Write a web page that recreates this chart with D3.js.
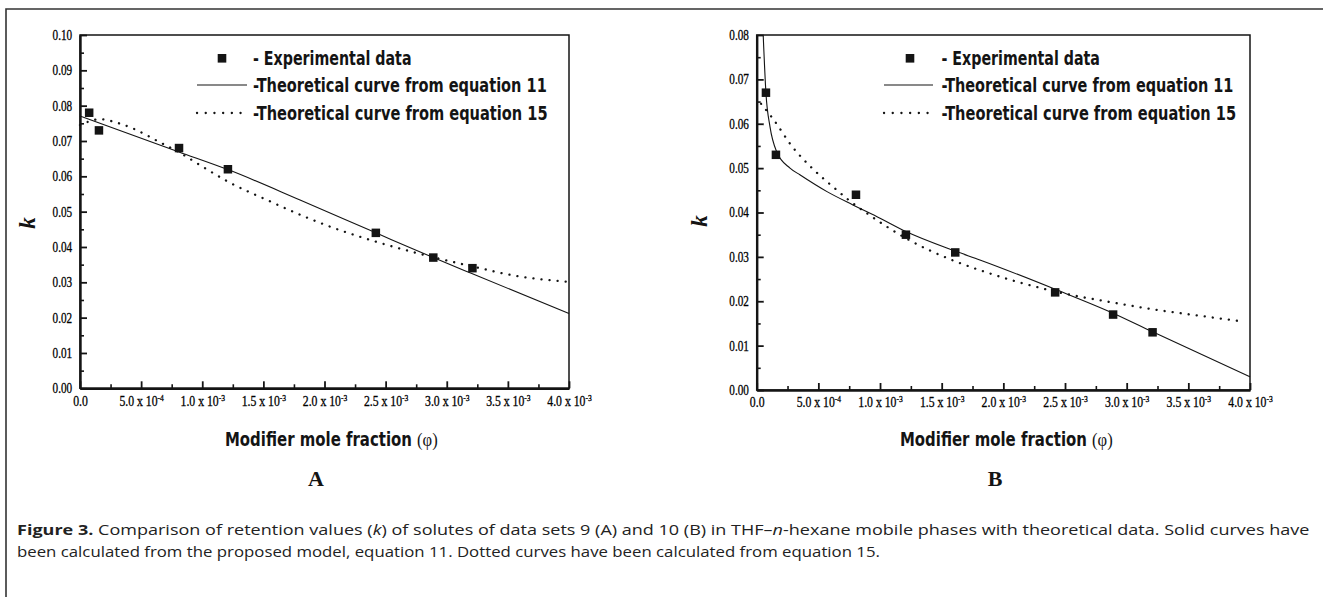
<!DOCTYPE html>
<html><head><meta charset="utf-8">
<script src="https://cdn.jsdelivr.net/npm/d3@7"></script>
<style>body{margin:0;background:#fff} svg{display:block}</style>
</head><body><svg id="c" width="1323" height="597"></svg>
<script>
// ---------- data ----------
const xTicks = [0, 5e-4, 1e-3, 1.5e-3, 2e-3, 2.5e-3, 3e-3, 3.5e-3, 4e-3];
const xTickMant = ["0.0", "5.0", "1.0", "1.5", "2.0", "2.5", "3.0", "3.5", "4.0"];
const xTickExp = ["", "-4", "-3", "-3", "-3", "-3", "-3", "-3", "-3"];
const yTicksA = [0, 0.01, 0.02, 0.03, 0.04, 0.05, 0.06, 0.07, 0.08, 0.09, 0.10];
const yTicksB = [0, 0.01, 0.02, 0.03, 0.04, 0.05, 0.06, 0.07, 0.08];

const expPhiA = [7.5e-5, 1.55e-4, 8.1e-4, 1.21e-3, 2.42e-3, 2.89e-3, 3.21e-3];
const expKA = [0.078, 0.073, 0.068, 0.062, 0.044, 0.037, 0.034];
const eq11PhiA = [0, 8.1e-4, 1.21e-3, 1.8e-3, 2.42e-3, 2.89e-3, 3.21e-3, 4.0e-3];
const eq11KA = [0.0771, 0.0669, 0.0619, 0.0533, 0.0440, 0.0370, 0.0324, 0.0212];
const eq15PhiA = [0, 8e-5, 1.6e-4, 3e-4, 4.3e-4, 6.5e-4, 8.1e-4, 1.0e-3, 1.21e-3, 1.53e-3, 1.85e-3, 2.05e-3, 2.42e-3, 2.89e-3, 3.21e-3, 3.57e-3, 4.0e-3];
const eq15KA = [0.0745, 0.0756, 0.0762, 0.0752, 0.0736, 0.0697, 0.0668, 0.0628, 0.0585, 0.0533, 0.0484, 0.0457, 0.0415, 0.0371, 0.0345, 0.0318, 0.0301];

const expPhiB = [7.5e-5, 1.56e-4, 8.05e-4, 1.21e-3, 1.61e-3, 2.42e-3, 2.89e-3, 3.21e-3];
const expKB = [0.067, 0.053, 0.044, 0.035, 0.031, 0.022, 0.017, 0.013];
const eq11PhiB = [5.3e-5, 7.5e-5, 1.08e-4, 1.62e-4, 2.7e-4, 3.5e-4, 5.7e-4, 7.8e-4, 1.0e-3, 1.21e-3, 1.61e-3, 1.81e-3, 2.42e-3, 2.89e-3, 3.21e-3, 4.0e-3];
const eq11KB = [0.0798, 0.0669, 0.0593, 0.0537, 0.0500, 0.0485, 0.0447, 0.0417, 0.0387, 0.0357, 0.0313, 0.0293, 0.0227, 0.0173, 0.0131, 0.0030];
const eq15PhiB = [3.5e-5, 1.35e-4, 2.84e-4, 4.6e-4, 6.1e-4, 7.6e-4, 8.9e-4, 1.21e-3, 1.61e-3, 1.81e-3, 2.42e-3, 2.89e-3, 3.21e-3, 3.6e-3, 3.95e-3];
const eq15KB = [0.0645, 0.0610, 0.0550, 0.0497, 0.0460, 0.0425, 0.0399, 0.0342, 0.0290, 0.0270, 0.0222, 0.0197, 0.0182, 0.0167, 0.0154];

const legendLabels = ["- Experimental data", "-Theoretical curve from equation 11", "-Theoretical curve from equation 15"];
const xTitle = "Modifier mole fraction";
const yTitle = "k";
const panelLetters = ["A", "B"];

// ---------- drawing ----------
const svg = d3.select("#c");
const INK = "#141414";

function fitWidth(sel, x0, w) {
  const n = sel.node();
  const cur = n.getComputedTextLength();
  const s = w / cur;
  sel.attr("transform", `translate(${x0},0) scale(${s},1) translate(${-x0},0)`);
}

// outer figure frame (top and left)
svg.append("path").attr("d", "M6,597 L6,9 L1323,9").attr("fill", "none")
  .attr("stroke", "#333").attr("stroke-width", 1.6);

function panel(cfg) {
  const g = svg.append("g");
  const x = d3.scaleLinear().domain([0, 4e-3]).range([cfg.x0, cfg.x1]);
  const y = d3.scaleLinear().domain([0, cfg.ymax]).range([cfg.y0, cfg.y1]);

  // frame box
  g.append("rect").attr("x", cfg.x0).attr("y", cfg.y1)
    .attr("width", cfg.x1 - cfg.x0).attr("height", cfg.y0 - cfg.y1)
    .attr("fill", "none").attr("stroke", INK).attr("stroke-width", 1.5);

  const yMinor = d3.pairs(cfg.yTicks).map(([a, b]) => (a + b) / 2);
  const xMinor = d3.pairs(xTicks).map(([a, b]) => (a + b) / 2);

  // minor ticks
  g.append("g").attr("transform", `translate(${cfg.x0},0)`)
    .call(d3.axisLeft(y).tickValues(yMinor).tickSizeInner(-4).tickSizeOuter(0).tickFormat(""))
    .call(s => { s.select(".domain").remove(); s.selectAll("line").attr("stroke", INK).attr("stroke-width", 1.6); });
  g.append("g").attr("transform", `translate(0,${cfg.y0})`)
    .call(d3.axisBottom(x).tickValues(xMinor).tickSizeInner(-4).tickSizeOuter(0).tickFormat(""))
    .call(s => { s.select(".domain").remove(); s.selectAll("line").attr("stroke", INK).attr("stroke-width", 1.6); });

  // major y axis
  const ya = g.append("g").attr("transform", `translate(${cfg.x0},0)`)
    .call(d3.axisLeft(y).tickValues(cfg.yTicks).tickSizeInner(-7).tickSizeOuter(0)
      .tickPadding(9.8).tickFormat(d3.format(".2f")));
  ya.select(".domain").attr("stroke", INK).attr("stroke-width", 2.4);
  ya.selectAll("line").attr("stroke", INK).attr("stroke-width", 1.8);
  ya.selectAll("text").attr("font-family", "'Liberation Serif', serif").attr("font-size", 14)
    .attr("fill", "#000").attr("stroke", "#000").attr("stroke-width", 0.3)
    .attr("transform", "scale(0.8,1)");

  // major x axis
  const xa = g.append("g").attr("transform", `translate(0,${cfg.y0})`)
    .call(d3.axisBottom(x).tickValues(xTicks).tickSizeInner(-7).tickSizeOuter(0).tickPadding(7.5));
  xa.select(".domain").attr("stroke", INK).attr("stroke-width", 2.4);
  xa.selectAll("line").attr("stroke", INK).attr("stroke-width", 1.8);
  xa.selectAll("text").each(function (d, i) {
    const t = d3.select(this).text(null)
      .attr("font-family", "'Liberation Serif', serif").attr("font-size", 14)
      .attr("fill", "#000").attr("stroke", "#000").attr("stroke-width", 0.3)
      .attr("transform", "scale(0.84,1)");
    if (xTickExp[i] === "") { t.text(xTickMant[i]); return; }
    t.append("tspan").text(xTickMant[i] + " x 10");
    t.append("tspan").attr("dy", "-5").attr("font-size", 9).text(xTickExp[i]);
  });

  // curves
  const line = d3.line().x(d => x(d[0])).y(d => y(d[1])).curve(d3.curveMonotoneX);
  g.append("path").datum(d3.zip(cfg.eq11Phi, cfg.eq11K)).attr("d", line)
    .attr("fill", "none").attr("stroke", INK).attr("stroke-width", 1.1);
  g.append("path").datum(d3.zip(cfg.eq15Phi, cfg.eq15K)).attr("d", line)
    .attr("fill", "none").attr("stroke", INK).attr("stroke-width", 2.3)
    .attr("stroke-dasharray", "0.1,8").attr("stroke-linecap", "round");

  // experimental points
  const ms = 8.5;
  g.selectAll("rect.pt").data(d3.zip(cfg.expPhi, cfg.expK)).join("rect").attr("class", "pt")
    .attr("x", d => x(d[0]) - ms / 2).attr("y", d => y(d[1]) - ms / 2)
    .attr("width", ms).attr("height", ms).attr("fill", INK);

  // legend
  const lg = g.append("g");
  const rows = [58.3, 85, 113];
  lg.append("rect").attr("x", cfg.lgMarkX - 4.3).attr("y", rows[0] - 4.3).attr("width", 8.6).attr("height", 8.6).attr("fill", INK);
  lg.append("line").attr("x1", cfg.lgLineX0).attr("x2", cfg.lgLineX1).attr("y1", rows[1]).attr("y2", rows[1])
    .attr("stroke", INK).attr("stroke-width", 1.1);
  lg.append("line").attr("x1", cfg.lgLineX0).attr("x2", cfg.lgLineX1).attr("y1", rows[2]).attr("y2", rows[2])
    .attr("stroke", INK).attr("stroke-width", 2.3).attr("stroke-dasharray", "0.1,8.6").attr("stroke-linecap", "round");
  legendLabels.forEach((lab, i) => {
    const t = lg.append("text").attr("x", cfg.lgTextX).attr("y", rows[i] + 6.7)
      .attr("font-family", "'Liberation Sans Narrow','DejaVu Sans Condensed','Roboto',sans-serif")
      .attr("font-weight", "bold").attr("font-size", 19).attr("fill", INK).text(lab);
    fitWidth(t, cfg.lgTextX, cfg.lgWidths[i]);
  });

  // y title
  g.append("text").attr("transform", `translate(${cfg.kx},${cfg.ky}) rotate(-90)`)
    .attr("text-anchor", "middle").attr("dominant-baseline", "central")
    .attr("font-family", "'Liberation Serif', serif").attr("font-style", "italic")
    .attr("font-weight", "bold").attr("font-size", 23).attr("fill", INK).text(yTitle);

  // x title
  const xt = g.append("text").attr("x", cfg.titleX).attr("y", 446.5)
    .attr("font-family", "'Liberation Sans Narrow','DejaVu Sans Condensed','Roboto',sans-serif")
    .attr("font-weight", "bold").attr("font-size", 19).attr("fill", INK);
  xt.append("tspan").text(xTitle + " ");
  xt.append("tspan").attr("font-weight", "normal").attr("font-family", "'Liberation Serif', serif").text("(φ)");
  fitWidth(xt, cfg.titleX, 213);

  // panel letter
  g.append("text").attr("x", cfg.letterX).attr("y", 486).attr("text-anchor", "middle")
    .attr("font-family", "'Liberation Serif', serif").attr("font-weight", "bold")
    .attr("font-size", 22).attr("fill", INK).text(cfg.letter);
}

panel({
  x0: 80, x1: 569, y0: 388.3, y1: 35, ymax: 0.10, yTicks: yTicksA,
  expPhi: expPhiA, expK: expKA, eq11Phi: eq11PhiA, eq11K: eq11KA, eq15Phi: eq15PhiA, eq15K: eq15KA,
  lgMarkX: 222, lgLineX0: 197, lgLineX1: 247, lgTextX: 253, lgWidths: [158.7, 294, 295],
  kx: 27.5, ky: 223, titleX: 225, letterX: 316, letter: panelLetters[0]
});
panel({
  x0: 756.7, x1: 1250, y0: 390, y1: 35, ymax: 0.08, yTicks: yTicksB,
  expPhi: expPhiB, expK: expKB, eq11Phi: eq11PhiB, eq11K: eq11KB, eq15Phi: eq15PhiB, eq15K: eq15KB,
  lgMarkX: 910, lgLineX0: 884, lgLineX1: 933, lgTextX: 941.5, lgWidths: [158.5, 292, 295],
  kx: 699, ky: 221, titleX: 900, letterX: 995, letter: panelLetters[1]
});

// caption
const capFont = "'Open Sans','Noto Sans',sans-serif";
const c1 = svg.append("text").attr("x", 17).attr("y", 535.5).attr("font-family", capFont)
  .attr("font-size", 15).attr("fill", "#222");
c1.append("tspan").attr("font-weight", "bold").text("Figure 3.");
c1.append("tspan").text(" Comparison of retention values (");
c1.append("tspan").attr("font-style", "italic").text("k");
c1.append("tspan").text(") of solutes of data sets 9 (A) and 10 (B) in THF–");
c1.append("tspan").attr("font-style", "italic").text("n");
c1.append("tspan").text("-hexane mobile phases with theoretical data. Solid curves have");
fitWidth(c1, 17, 1293);
const c2 = svg.append("text").attr("x", 17).attr("y", 557.5).attr("font-family", capFont)
  .attr("font-size", 15).attr("fill", "#222")
  .text("been calculated from the proposed model, equation 11. Dotted curves have been calculated from equation 15.");
fitWidth(c2, 17, 864);
</script>
</body></html>
